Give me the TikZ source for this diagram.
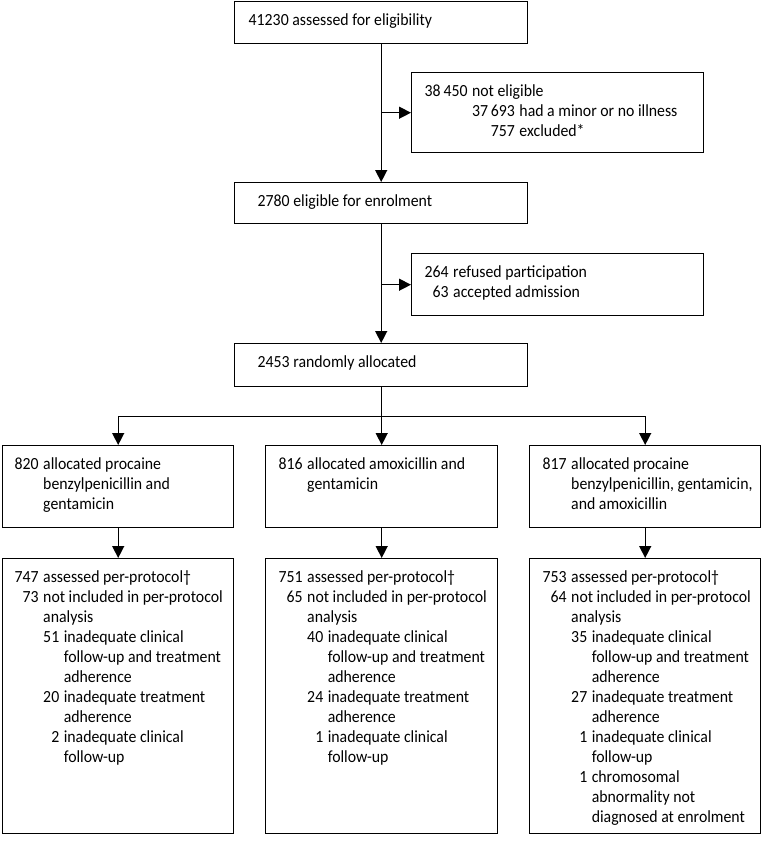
\documentclass[tikz,border=0pt]{standalone}
\usepackage{fontspec}
\setmainfont[FakeStretch=0.93]{Carlito}
\usetikzlibrary{arrows.meta}
\newcommand{\boxtxt}{\fontsize{17}{20}\selectfont}
\newcommand{\numgap}{\hspace{4.5pt}}
\tikzset{
  flowbox/.style={draw,line width=1.4pt,anchor=north west,font=\boxtxt,inner ysep=10pt,text height=14pt},
  flowarrow/.style={line width=1.4pt,-{Triangle[length=12pt,width=12pt]}}
}
\begin{document}
\begin{tikzpicture}[x=1pt,y=-1pt]
\useasboundingbox (0,0) rectangle (762,844);
% screening
\node[flowbox,inner xsep=14pt,text depth=8pt] (elig) at (234,1) {\makebox[265pt][l]{41230 assessed for eligibility}};
\node[flowbox,inner xsep=13pt,text depth=46pt] (noteli) at (411,72) {\makebox[266pt][l]{\begin{tabular}[t]{@{}r@{\numgap}r@{\numgap}l@{}}
38\,450 & \multicolumn{2}{@{}l@{}}{not eligible}\\
 & 37\,693 & had a minor or no illness\\
 & 757 & excluded*
\end{tabular}}};
\node[flowbox,inner xsep=23pt,text depth=7pt] (enrol) at (234,182) {\makebox[247pt][l]{2780 eligible for enrolment}};
\node[flowbox,inner xsep=13pt,text depth=28pt] (refused) at (411,253) {\makebox[266pt][l]{\begin{tabular}[t]{@{}r@{\numgap}l@{}}
264 & refused participation\\
63 & accepted admission
\end{tabular}}};
\node[flowbox,inner xsep=23pt,text depth=9pt] (random) at (234,343) {\makebox[247pt][l]{2453 randomly allocated}};
% allocation
\node[flowbox,inner xsep=12pt,text depth=48pt] (allocA) at (2,445) {\makebox[207pt][l]{\begin{tabular}[t]{@{}r@{\numgap}l@{}}
820 & allocated procaine\\
 & benzylpenicillin and\\
 & gentamicin
\end{tabular}}};
\node[flowbox,inner xsep=13pt,text depth=48pt] (allocB) at (265,445) {\makebox[206pt][l]{\begin{tabular}[t]{@{}r@{\numgap}l@{}}
816 & allocated amoxicillin and\\
 & gentamicin
\end{tabular}}};
\node[flowbox,inner xsep=13pt,text depth=48pt] (allocC) at (529,445) {\makebox[205pt][l]{\begin{tabular}[t]{@{}r@{\numgap}l@{}}
817 & allocated procaine\\
 & benzylpenicillin, gentamicin,\\
 & and amoxicillin
\end{tabular}}};
% per-protocol
\node[flowbox,inner xsep=12pt,text depth=241pt] (ppA) at (2,558) {\makebox[207pt][l]{\begin{tabular}[t]{@{}r@{\numgap}r@{\numgap}l@{}}
747 & \multicolumn{2}{@{}l@{}}{assessed per-protocol†}\\
73 & \multicolumn{2}{@{}l@{}}{not included in per-protocol}\\
 & \multicolumn{2}{@{}l@{}}{analysis}\\
 & 51 & inadequate clinical\\
 & & follow-up and treatment\\
 & & adherence\\
 & 20 & inadequate treatment\\
 & & adherence\\
 & 2 & inadequate clinical\\
 & & follow-up
\end{tabular}}};
\node[flowbox,inner xsep=13pt,text depth=241pt] (ppB) at (265,558) {\makebox[206pt][l]{\begin{tabular}[t]{@{}r@{\numgap}r@{\numgap}l@{}}
751 & \multicolumn{2}{@{}l@{}}{assessed per-protocol†}\\
65 & \multicolumn{2}{@{}l@{}}{not included in per-protocol}\\
 & \multicolumn{2}{@{}l@{}}{analysis}\\
 & 40 & inadequate clinical\\
 & & follow-up and treatment\\
 & & adherence\\
 & 24 & inadequate treatment\\
 & & adherence\\
 & 1 & inadequate clinical\\
 & & follow-up
\end{tabular}}};
\node[flowbox,inner xsep=13pt,text depth=241pt] (ppC) at (529,558) {\makebox[205pt][l]{\begin{tabular}[t]{@{}r@{\numgap}r@{\numgap}l@{}}
753 & \multicolumn{2}{@{}l@{}}{assessed per-protocol†}\\
64 & \multicolumn{2}{@{}l@{}}{not included in per-protocol}\\
 & \multicolumn{2}{@{}l@{}}{analysis}\\
 & 35 & inadequate clinical\\
 & & follow-up and treatment\\
 & & adherence\\
 & 27 & inadequate treatment\\
 & & adherence\\
 & 1 & inadequate clinical\\
 & & follow-up\\
 & 1 & chromosomal\\
 & & abnormality not\\
 & & diagnosed at enrolment
\end{tabular}}};
% connectors
\draw[flowarrow] (elig) -- (enrol);
\draw[flowarrow] (elig.south |- noteli.west) -- (noteli.west);
\draw[flowarrow] (enrol) -- (random);
\draw[flowarrow] (enrol.south |- refused.west) -- (refused.west);
\path (random.south) ++(0,29) coordinate (split);
\draw[line width=1.4pt] (random) -- (split);
\draw[flowarrow] (split) -| (allocA);
\draw[flowarrow] (split) -| (allocB);
\draw[flowarrow] (split) -| (allocC);
\draw[flowarrow] (allocA) -- (ppA);
\draw[flowarrow] (allocB) -- (ppB);
\draw[flowarrow] (allocC) -- (ppC);
\end{tikzpicture}
\end{document}
